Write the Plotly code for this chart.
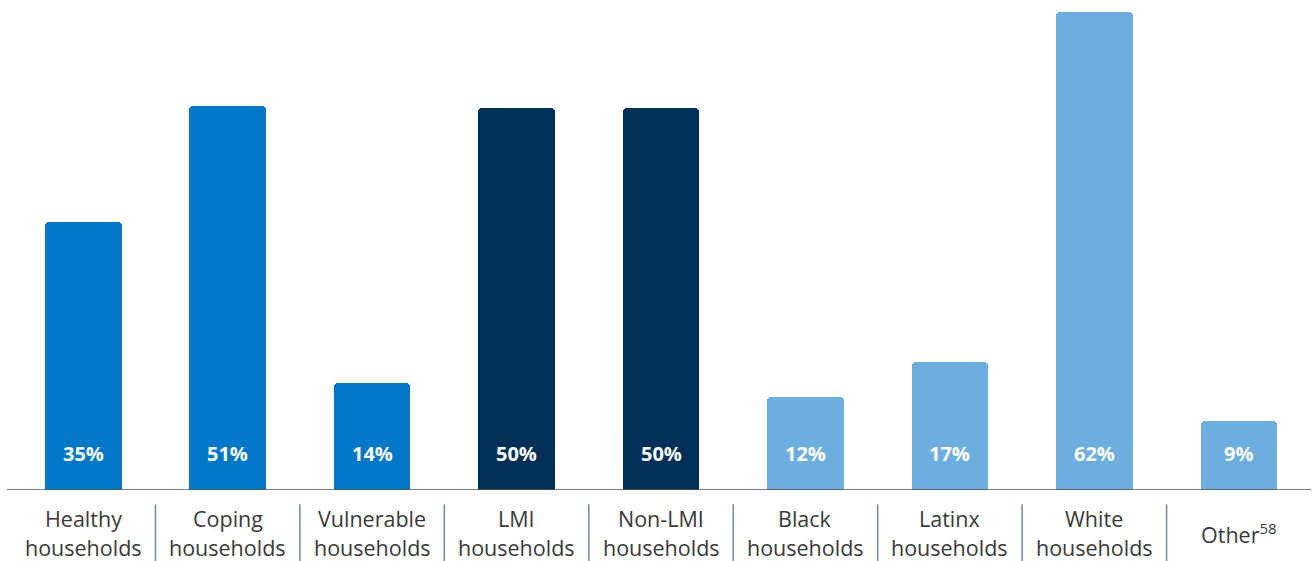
import plotly.graph_objects as go

categories = ["Healthy households", "Coping households", "Vulnerable households",
              "LMI households", "Non-LMI households", "Black households",
              "Latinx households", "White households", "Other"]
line1 = ["Healthy", "Coping", "Vulnerable", "LMI", "Non-LMI", "Black", "Latinx", "White", None]
line2 = ["households"] * 8 + [None]
# bar heights as drawn in the reference (percent)
values = [35, 50.2, 14, 49.9, 49.9, 12.2, 16.7, 62.5, 9]
value_labels = ["35%", "51%", "14%", "50%", "50%", "12%", "17%", "62%", "9%"]
colors = ["#0077C8", "#0077C8", "#0077C8", "#003057", "#003057",
          "#6CAEDF", "#6CAEDF", "#6CAEDF", "#6CAEDF"]

FONT = "Open Sans"
x_idx = list(range(len(categories)))

fig = go.Figure()
fig.add_trace(go.Bar(
    x=x_idx, y=values, width=0.53,
    marker=dict(color=colors, line=dict(width=0), cornerradius=4),
    hoverinfo="skip", showlegend=False,
))

annotations = []
for i, lab in enumerate(value_labels):
    annotations.append(dict(x=i, y=0, xref="x", yref="y", text=lab, showarrow=False,
                            yanchor="middle", yshift=37,
                            font=dict(family=FONT, size=20, color="white", weight="bold")))
for i in x_idx:
    if line1[i] is not None:
        annotations.append(dict(x=i, y=0, xref="x", yref="paper", text=line1[i], showarrow=False,
                                yanchor="middle", yshift=-28, borderpad=0,
                                font=dict(family=FONT, size=21.5, color="#3a3a3a")))
        annotations.append(dict(x=i, y=0, xref="x", yref="paper", text=line2[i], showarrow=False,
                                yanchor="middle", yshift=-57, borderpad=0,
                                font=dict(family=FONT, size=21.5, color="#3a3a3a")))
    else:
        annotations.append(dict(x=i, y=0, xref="x", yref="paper",
                                text="Other<sup>58</sup>", showarrow=False,
                                yanchor="middle", yshift=-43, borderpad=0,
                                font=dict(family=FONT, size=21.5, color="#3a3a3a")))

shapes = []
for i in range(len(categories) - 1):
    shapes.append(dict(type="line", xref="x", yref="paper", x0=i + 0.5, x1=i + 0.5,
                       y0=-0.03, y1=-0.15, line=dict(color="#7189a0", width=1.5)))
# baseline
shapes.append(dict(type="line", xref="paper", yref="y", x0=-0.003, x1=1.0, y0=0, y1=0,
                   line=dict(color="#555555", width=1.5)))

fig.update_layout(
    width=1312, height=561,
    margin=dict(l=11, r=1, t=11, b=71),
    paper_bgcolor="white", plot_bgcolor="white",
    xaxis=dict(range=[-0.5, 8.5], showticklabels=False, showgrid=False, zeroline=False,
               showline=False, ticks=""),
    yaxis=dict(range=[0, 62.6], showticklabels=False, showgrid=False, zeroline=False,
               showline=False, ticks=""),
    annotations=annotations, shapes=shapes,
    font=dict(family=FONT),
    bargap=0,
)

fig.write_html("out.html", config={"displayModeBar": False})
